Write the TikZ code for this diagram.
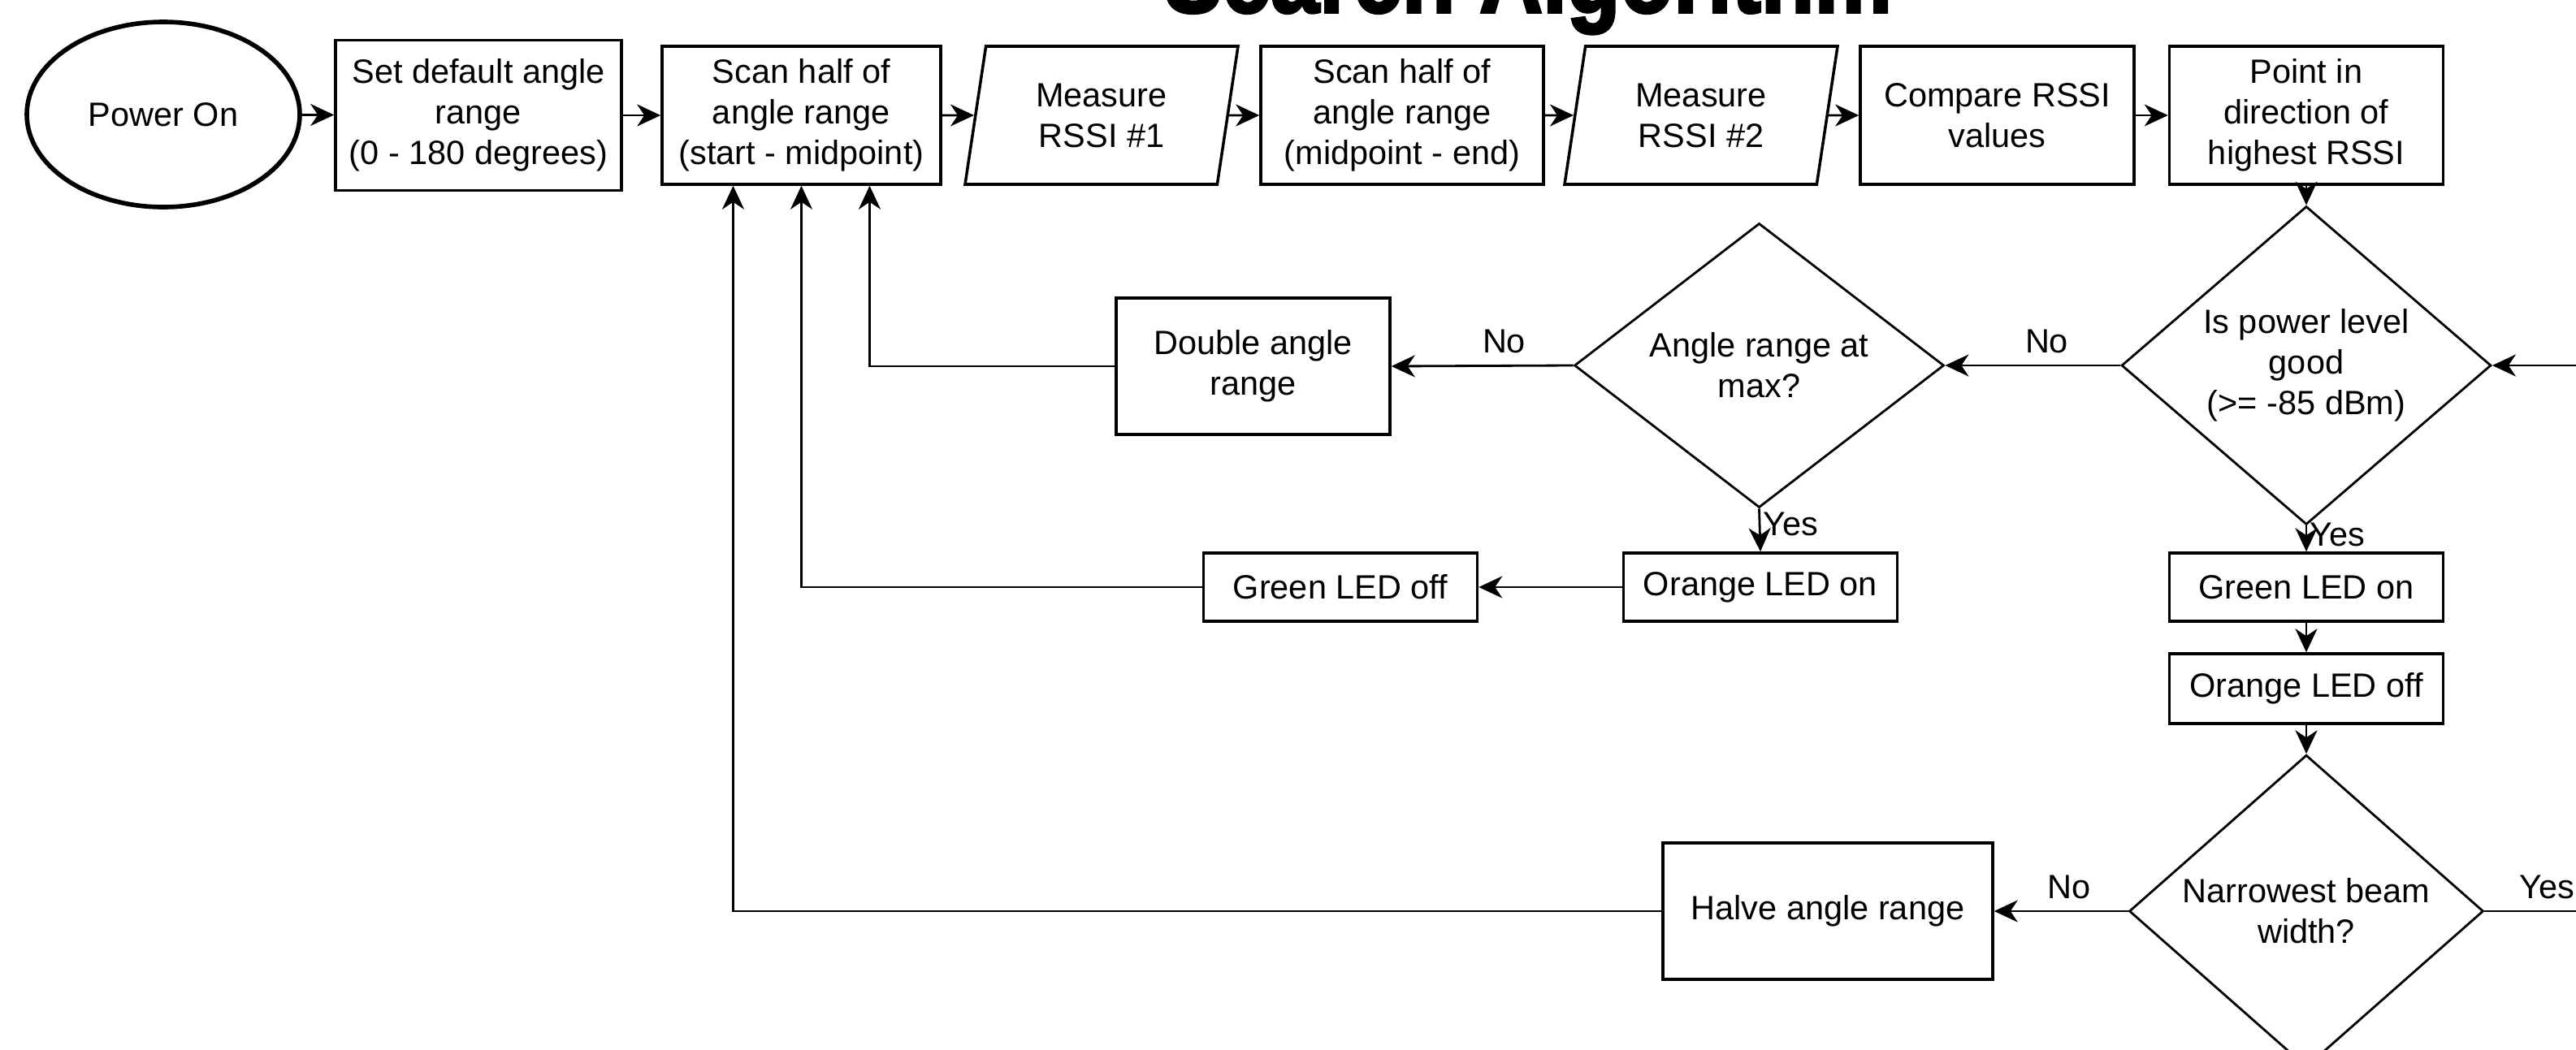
\documentclass[tikz,border=0pt]{standalone}
\usepackage{fontspec}
\setmainfont{Liberation Sans}
\newfontfamily\headfont[FakeBold=3]{Liberation Sans}
\usetikzlibrary{shapes.geometric,arrows.meta}
\tikzset{
	txt/.style = { font=\fontsize{11.8}{14.2}\selectfont, align=center },
	box/.style = { txt, draw, line width=1pt, inner sep=0pt, minimum width=3.37cm },
	io/.style = { txt, draw, line width=1pt, inner sep=0pt, trapezium, trapezium left angle=72, trapezium right angle=108, trapezium stretches body, minimum width=3.36cm, minimum height=1.70cm },
	decision/.style = { txt, draw, line width=0.8pt, diamond, inner sep=0pt },
	startnode/.style = { txt, draw, line width=1.6pt, ellipse, minimum width=3.36cm, minimum height=2.28cm },
	lbl/.style = { txt, inner sep=1pt },
	heading/.style = { font=\headfont\bfseries\fontsize{36}{40}\selectfont, anchor=base, xscale=0.85, transform shape },
	arrow/.style = { line width=0.8pt, color=black, ->, >={Stealth[length=0.29cm, width=0.27cm, inset=0.09cm]} },
}

\begin{document}
\begin{tikzpicture}
\useasboundingbox (0,0) rectangle (31.71,-12.93);
\clip (0,0) rectangle (31.71,-12.93);

% title, cut off by the top edge
\node[heading] (ttl) at (18.81,-0.15) {Search Algorithm};

% top row
\node[startnode] (on) at (2.01,-1.41) {Power On};
\node[box, minimum width=3.52cm, minimum height=1.85cm] (set) at (5.89,-1.42) {Set default angle\\range\\(0 - 180 degrees)};
\node[box, minimum width=3.43cm, minimum height=1.70cm] (scan1) at (9.865,-1.42) {Scan half of\\angle range\\(start - midpoint)};
\node[io] (meas1) at (13.56,-1.42) {Measure\\RSSI \#1};
\node[box, minimum width=3.48cm, minimum height=1.70cm] (scan2) at (17.26,-1.42) {Scan half of\\angle range\\(midpoint - end)};
\node[io] (meas2) at (20.94,-1.42) {Measure\\RSSI \#2};
\node[box, minimum height=1.70cm] (cmp) at (24.585,-1.42) {Compare RSSI\\values};
\node[box, minimum height=1.70cm] (point) at (28.39,-1.42) {Point in\\direction of\\highest RSSI};

% decisions
\node[decision, minimum width=4.55cm, minimum height=3.35cm] (pwr) at (28.39,-4.50) {Is power level\\good\\(>= -85 dBm)};
\node[decision, minimum width=4.55cm, minimum height=3.35cm] (amax) at (21.655,-4.50) {Angle range at\\max?};
\node[box, minimum height=1.68cm] (dbl) at (15.425,-4.51) {Double angle\\range};

% LED boxes
\node[box, minimum height=0.84cm] (oon) at (21.67,-7.23) {Orange LED on};
\node[box, minimum height=0.84cm] (goff) at (16.50,-7.23) {Green LED off};
\node[box, minimum height=0.84cm] (gon) at (28.39,-7.23) {Green LED on};
\node[box, minimum height=0.86cm] (ooff) at (28.39,-8.48) {Orange LED off};

% beam width check
\node[decision, minimum width=4.36cm, minimum height=3.74cm] (nar) at (28.39,-11.22) {Narrowest beam\\width?};
\node[box, minimum width=4.06cm, minimum height=1.68cm] (hlv) at (22.50,-11.22) {Halve angle range};
\coordinate (loop) at (32.5,-11.22);

% connectors
\draw[arrow] (on) -- (set);
\draw[arrow] (set) -- (scan1);
\draw[arrow] (scan1) -- (meas1);
\draw[arrow] (meas1) -- (scan2);
\draw[arrow] (scan2) -- (meas2);
\draw[arrow] (meas2) -- (cmp);
\draw[arrow] (cmp) -- (point);
\draw[arrow] (point) -- (pwr);
\draw[arrow] (pwr.west) -- node[lbl, above=3pt, pos=0.42] {No} (amax.east);
\draw[arrow] (amax.west) -- node[lbl, above=3pt, pos=0.38] {No} (dbl.east);
\draw[arrow] (dbl.west) -| ([xshift=0.84cm]scan1.south);
\draw[arrow] (amax.south) -- node[lbl, right, pos=0.35] {Yes} (oon.north);
\draw[arrow] (oon) -- (goff);
\draw[arrow] (goff.west) -| (scan1.south);
\draw[arrow] (pwr.south) -- node[lbl, right, pos=0.35] {Yes} (gon.north);
\draw[arrow] (gon) -- (ooff);
\draw[arrow] (ooff) -- (nar);
\draw[arrow] (nar.west) -- node[lbl, above=3pt, pos=0.44] {No} (hlv.east);
\draw[arrow] (hlv.west) -| ([xshift=-0.84cm]scan1.south);
\draw[arrow] (nar.east) -- node[lbl, above=3pt, pos=0.4] {Yes} (loop) |- (pwr.east);
\end{tikzpicture}
\end{document}
